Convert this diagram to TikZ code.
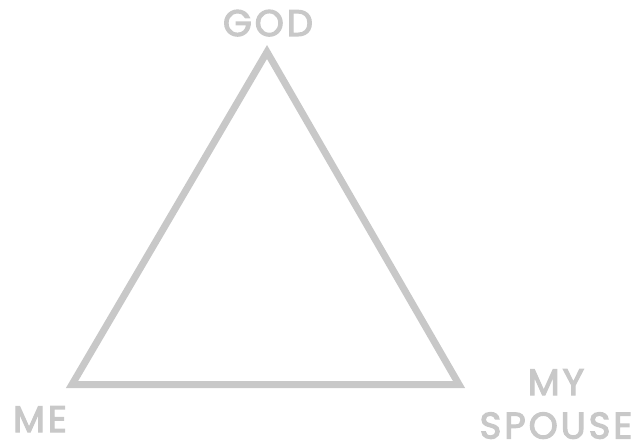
\documentclass[tikz,border=0pt]{standalone}
\usepackage{fontspec}
\newfontfamily\lab{Poppins}[FakeBold=3.2,LetterSpace=8]
\definecolor{tri}{HTML}{C8C8C8}
\begin{document}
\begin{tikzpicture}[x=1pt,y=-1pt,
  edge/.style={draw=tri,line width=7pt,line join=miter},
  lbl/.style={text=tri,font=\lab\fontsize{37}{39}\selectfont,inner sep=0pt,anchor=base,align=center}]
\useasboundingbox (0,0) rectangle (637,444);
\coordinate (g) at (267,52);
\coordinate (m) at (72,384.5);
\coordinate (s) at (459,384.5);
\draw[edge] (g) -- (m) -- (s) -- cycle;
\node[lbl] (god) at (268,36) {GOD};
\node[lbl] (me) at (40,432) {ME};
\node[lbl] (my) at (556,395) {MY};
\node[lbl] (spouse) at (556,438.5) {SPOUSE};
\end{tikzpicture}
\end{document}
